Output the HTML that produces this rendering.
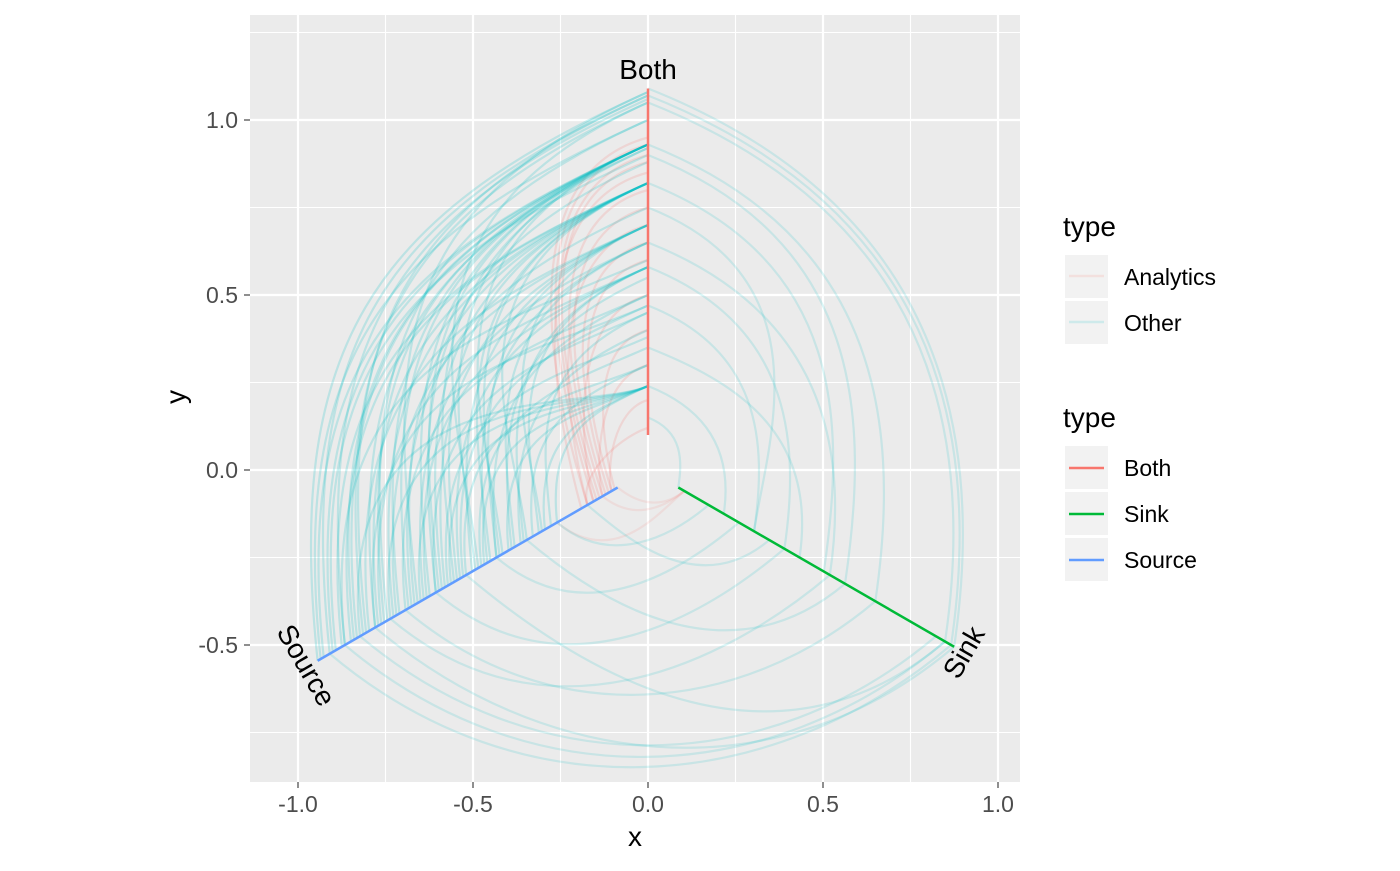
<!DOCTYPE html>
<html><head><meta charset="utf-8">
<style>
body{margin:0;background:#fff;font-family:"Liberation Sans",sans-serif;}
svg text{font-family:"Liberation Sans",sans-serif;}
</style></head>
<body>
<svg id="chart" width="1400" height="866" viewBox="0 0 1400 866">
<rect x="250" y="15" width="770" height="767" fill="#EBEBEB"/>
<g id="grid"></g>
<g id="edges"></g>
<g id="axes"></g>
<g id="ticks"></g>
<text x="635" y="846" font-size="28" text-anchor="middle" fill="#000">x</text>
<text x="0" y="0" font-size="28" text-anchor="middle" fill="#000" transform="translate(185,397) rotate(-90)">y</text>
<g>
<text x="1063" y="236" font-size="28">type</text>
<rect x="1065" y="255" width="43" height="43" fill="#F2F2F2"/>
<line x1="1069" y1="276" x2="1104" y2="276" stroke="#F8766D" stroke-opacity="0.15" stroke-width="2.5"/>
<text x="1124" y="285" font-size="23">Analytics</text>
<rect x="1065" y="301" width="43" height="43" fill="#F2F2F2"/>
<line x1="1069" y1="322" x2="1104" y2="322" stroke="#00BFC4" stroke-opacity="0.15" stroke-width="2.5"/>
<text x="1124" y="331" font-size="23">Other</text>
</g>
<g>
<text x="1063" y="427" font-size="28">type</text>
<rect x="1065" y="446" width="43" height="43" fill="#F2F2F2"/>
<line x1="1069" y1="468" x2="1104" y2="468" stroke="#F8766D" stroke-width="2.5"/>
<text x="1124" y="476" font-size="23">Both</text>
<rect x="1065" y="492" width="43" height="43" fill="#F2F2F2"/>
<line x1="1069" y1="514" x2="1104" y2="514" stroke="#00BA38" stroke-width="2.5"/>
<text x="1124" y="522" font-size="23">Sink</text>
<rect x="1065" y="538" width="43" height="43" fill="#F2F2F2"/>
<line x1="1069" y1="560" x2="1104" y2="560" stroke="#619CFF" stroke-width="2.5"/>
<text x="1124" y="568" font-size="23">Source</text>
</g>
</svg>
<script>
const NS="http://www.w3.org/2000/svg";
const xTicks=[-1.0,-0.5,0.0,0.5,1.0];
const xMinor=[-0.75,-0.25,0.25,0.75];
const yTicks=[-0.5,0.0,0.5,1.0];
const yMinor=[-0.75,-0.25,0.25,0.75,1.25];
const axisNames=["Both","Source","Sink"];
const axisAngles=[90,210,330];
const axisStart=[0.1,0.1,0.1];
const axisEnd=[1.09,1.09,1.01];
const axisColors=["#F8766D","#619CFF","#00BA38"];
const srcBothFrom=[1.09,1.07,1.05,1.03,1.0,0.98,0.96,0.94,0.92,0.9,0.88,0.86,0.84,0.82,0.8,0.78,0.76,0.74,0.72,0.7,0.68,0.66,0.64,0.62,0.6,0.58,0.56,0.54,0.52,0.5,0.48,0.46,0.44,0.42,0.4,0.38,0.36,0.34,0.32,0.3,0.95,0.85,0.75,0.65,0.55,1.0,0.9,0.7,0.5,0.45,1.08,1.04,1.01,0.97,0.93,0.89,0.87,0.83,0.79,0.77,0.73,0.69,0.67,0.63,0.61,0.57,0.53,0.49,0.41,0.35];
const srcBothTo=[1.08,0.93,1.07,0.9,1.06,0.82,0.93,1.05,0.7,0.92,0.58,1.0,0.82,0.93,0.5,0.75,1.08,0.65,0.93,0.45,0.82,0.38,0.92,0.58,0.3,0.7,1.05,0.24,0.82,0.5,0.93,0.24,0.65,0.4,0.82,0.3,0.58,0.24,0.45,0.24,0.24,0.24,0.24,0.24,0.35,0.6,0.47,0.88,0.7,0.55,1.0,0.93,0.82,0.93,1.07,0.82,0.93,0.7,0.93,0.82,0.58,0.93,0.7,0.82,0.47,0.93,0.65,0.82,0.58,0.7];
const srcSinkFrom=[1.05,1.0,0.95,0.9,0.85,0.8,0.7,0.6,0.5,0.4,0.3,0.2];
const srcSinkTo=[1.0,0.98,0.95,1.01,0.6,0.75,0.45,0.98,0.3,0.65,0.2,0.4];
const bothSinkFrom=[1.09,1.07,1.05,0.93,0.9,0.82,0.75,0.65,0.58,0.47,0.35,0.24,0.15];
const bothSinkTo=[1.01,1.0,0.98,0.75,0.65,0.58,0.35,0.6,0.45,0.35,0.5,0.25,0.1];
const anaFrom=[0.95,0.93,0.9,0.88,0.85,0.8,0.75,0.7,0.65,0.6,0.5,0.4,0.3,0.2,0.12];
const anaTo=[0.2,0.18,0.17,0.16,0.22,0.15,0.14,0.2,0.13,0.12,0.18,0.11,0.15,0.12,0.2];
const anaSink=[0.1,0.3,0.15];

const X=v=>648+v*350, Y=v=>470-v*350;
function pol(r,a){const t=a*Math.PI/180;return [r*Math.cos(t),r*Math.sin(t)];}
function mk(tag,attrs,parent){const e=document.createElementNS(NS,tag);for(const k in attrs)e.setAttribute(k,attrs[k]);parent.appendChild(e);return e;}
const grid=document.getElementById('grid');
xMinor.forEach(v=>{const l=mk('line',{x1:X(v),x2:X(v),y1:15,y2:782,stroke:'#fff','stroke-width':1.1},grid);});
yMinor.forEach(v=>{const l=mk('line',{x1:250,x2:1020,y1:Y(v),y2:Y(v),stroke:'#fff','stroke-width':1.1},grid);});
xTicks.forEach(v=>{const l=mk('line',{x1:X(v),x2:X(v),y1:15,y2:782,stroke:'#fff','stroke-width':2.2},grid);});
yTicks.forEach(v=>{const l=mk('line',{x1:250,x2:1020,y1:Y(v),y2:Y(v),stroke:'#fff','stroke-width':2.2},grid);});
const ticks=document.getElementById('ticks');
xTicks.forEach(v=>{mk('line',{x1:X(v),x2:X(v),y1:782,y2:788,stroke:'#333','stroke-width':1.1},ticks);
 const t=mk('text',{x:X(v),y:812,'font-size':23,'text-anchor':'middle',fill:'#4D4D4D'},ticks);t.textContent=v.toFixed(1);
 });
yTicks.forEach(v=>{mk('line',{x1:244,x2:250,y1:Y(v),y2:Y(v),stroke:'#333','stroke-width':1.1},ticks);
 const t=mk('text',{x:238,y:Y(v)+8,'font-size':23,'text-anchor':'end',fill:'#4D4D4D'},ticks);t.textContent=v.toFixed(1);
 });

const eg=document.getElementById('edges');
function edge(a1,r1,a2,r2,color,op,k,name){
 let d=a2-a1; if(d>180)d-=360; if(d<-180)d+=360;
 const p0=pol(r1,a1),p1=pol(r1,a1+d*k),p2=pol(r2,a2-d*k),p3=pol(r2,a2);
 const p=mk('path',{d:`M${X(p0[0])},${Y(p0[1])} C${X(p1[0])},${Y(p1[1])} ${X(p2[0])},${Y(p2[1])} ${X(p3[0])},${Y(p3[1])}`,fill:'none',stroke:color,'stroke-opacity':op,'stroke-width':2.2},eg);
 
 
}
anaFrom.forEach((r,i)=>edge(90,r,210,anaTo[i],'#F8766D',0.18,0.25,'edge-analytics'));
anaSink.forEach((r,i)=>edge(210,r,330,0.12,'#F8766D',0.12,0.35,'edge-analytics'));
srcBothFrom.forEach((r,i)=>edge(210,r,90,srcBothTo[i],'#00BFC4',0.2,0.4,'edge-source-both'));
srcSinkFrom.forEach((r,i)=>edge(210,r,330,srcSinkTo[i],'#00BFC4',0.15,0.33,'edge-source-sink'));
bothSinkFrom.forEach((r,i)=>edge(90,r,330,bothSinkTo[i],'#00BFC4',0.15,0.36,'edge-both-sink'));

const ax=document.getElementById('axes');
axisNames.forEach((n,i)=>{
 const s=pol(axisStart[i],axisAngles[i]),e=pol(axisEnd[i],axisAngles[i]);
 const l=mk('line',{x1:X(s[0]),y1:Y(s[1]),x2:X(e[0]),y2:Y(e[1]),stroke:axisColors[i],'stroke-width':2.5},ax);
 
 
});
const lb=[["Both",648,79,0],["Source",298,670,60],["Sink",972,657,-60]];
lb.forEach(b=>{const t=mk('text',{x:0,y:0,'font-size':28,'text-anchor':'middle',fill:'#000',transform:`translate(${b[1]},${b[2]}) rotate(${b[3]})`},ax);
 t.textContent=b[0];
 
 });
</script>
</body></html>
